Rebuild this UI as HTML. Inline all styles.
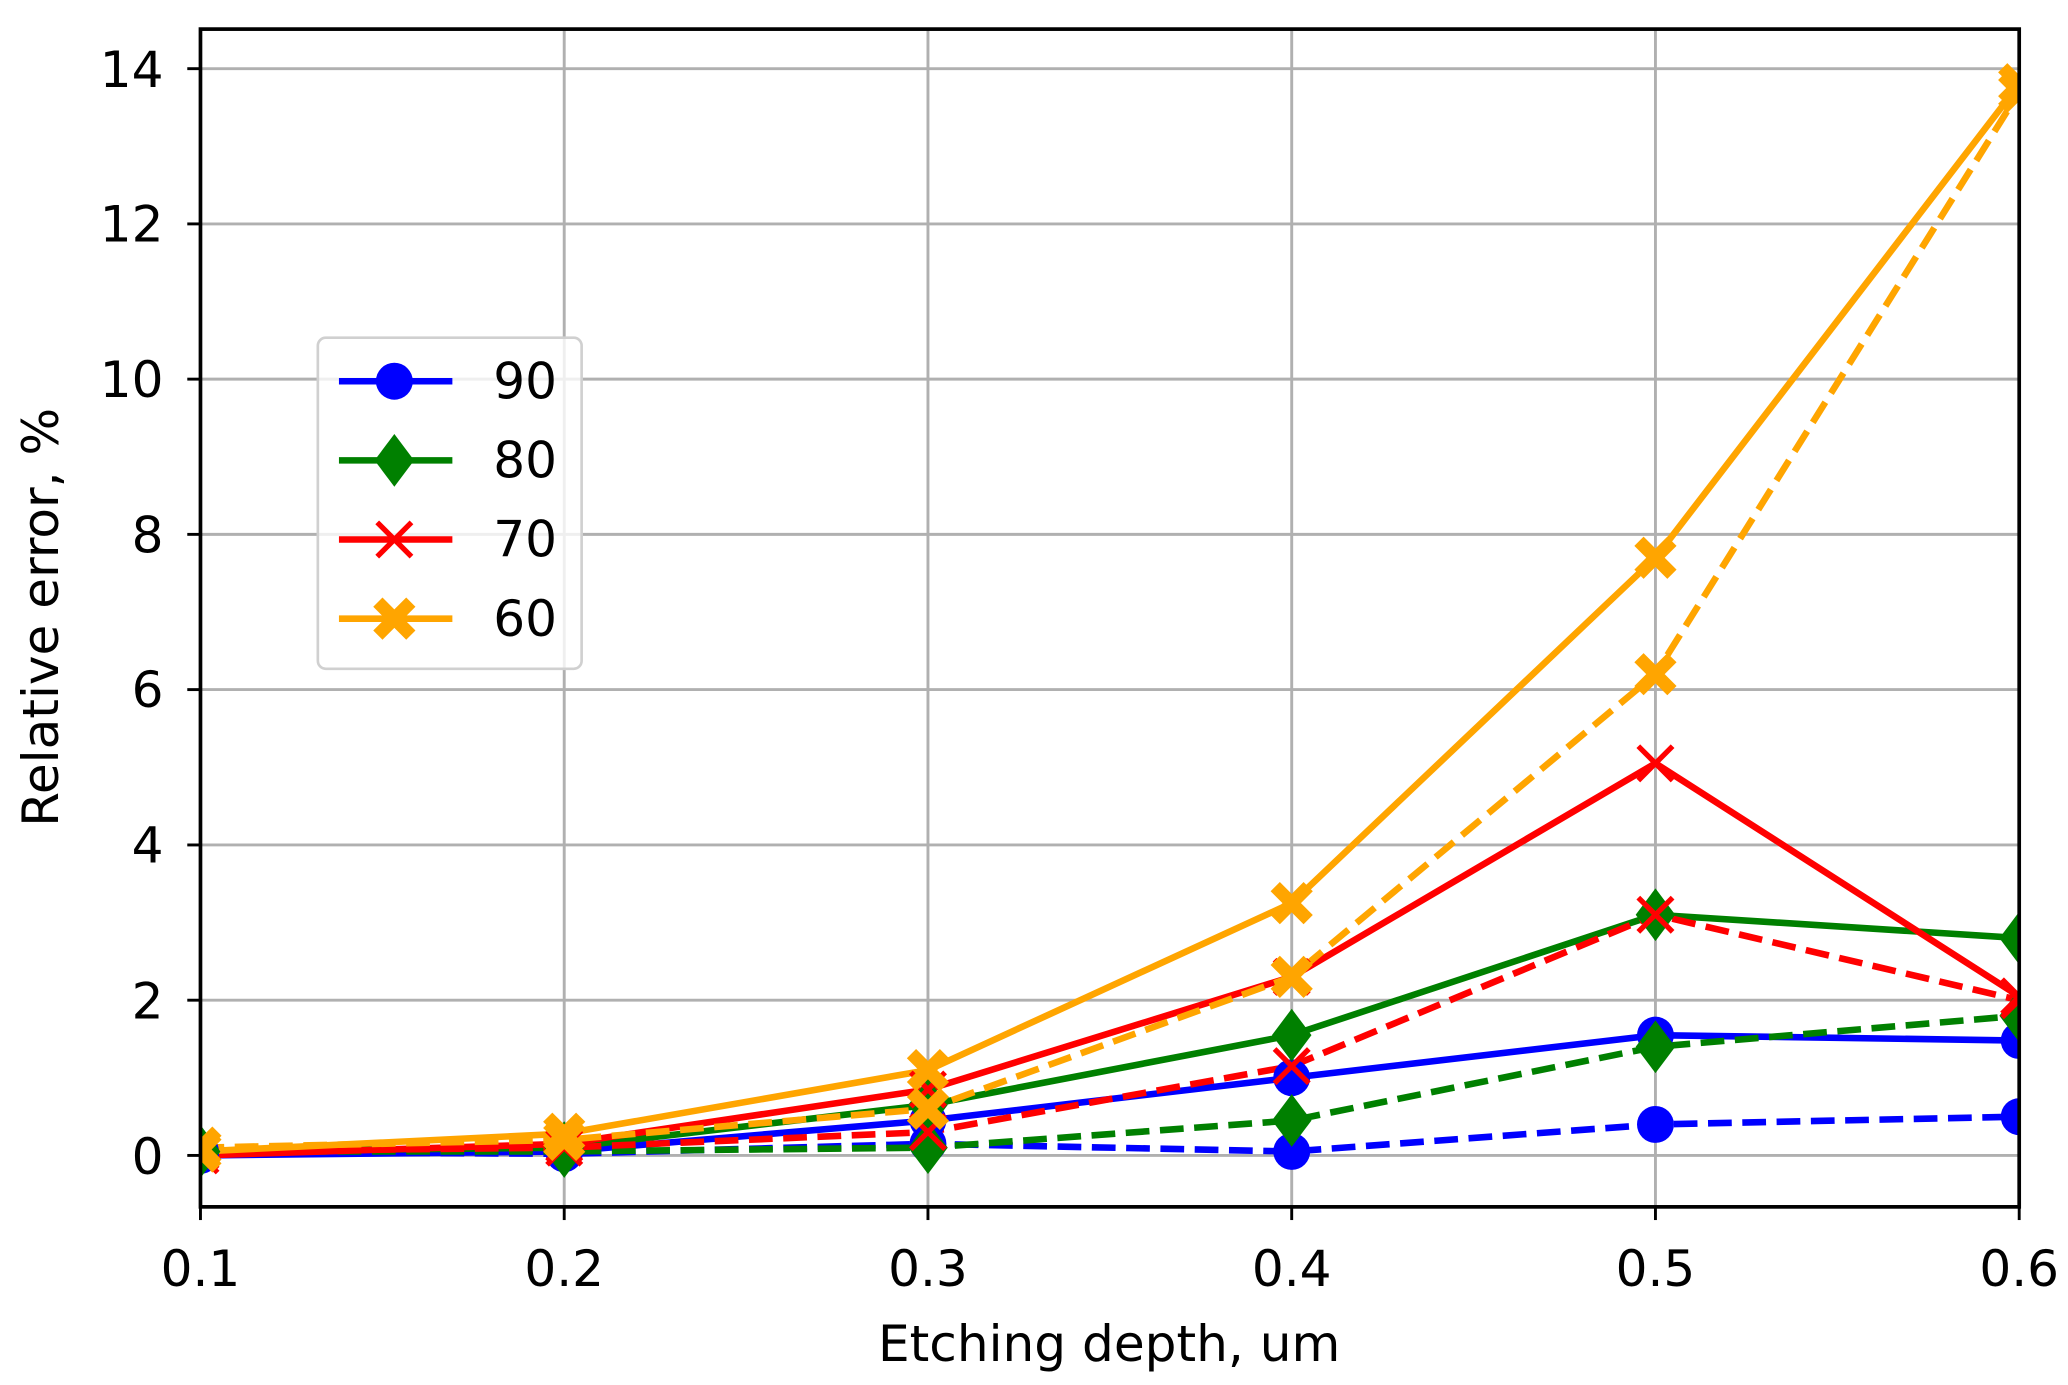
<!DOCTYPE html>
<html><head><meta charset="utf-8"><style>
html,body{margin:0;padding:0;background:#fff;}
svg{display:block;}
text{font-family:"DejaVu Sans","Liberation Sans",sans-serif;fill:#000;}
</style></head><body>
<svg width="2068" height="1385" viewBox="0 0 1568 1050" xmlns="http://www.w3.org/2000/svg">
<defs>
<clipPath id="c"><rect x="152" y="22" width="1379" height="893"/></clipPath>
<circle id="mo" r="14"/>
<path id="md" d="M0,-20 L15,0 L0,20 L-15,0 Z"/>
<path id="mx" d="M-13,-13 L13,13 M-13,13 L13,-13" fill="none" stroke-width="4"/>
<path id="mX" d="M-16,-9 L-9,-16 L0,-7 L9,-16 L16,-9 L7,0 L16,9 L9,16 L0,7 L-9,16 L-16,9 L-7,0 Z"/>
</defs>
<rect width="1568" height="1050" fill="#fff"/>
<g stroke="#b0b0b0" stroke-width="2.2">
<line x1="427.8" y1="22" x2="427.8" y2="915"/><line x1="703.6" y1="22" x2="703.6" y2="915"/>
<line x1="979.4" y1="22" x2="979.4" y2="915"/><line x1="1255.2" y1="22" x2="1255.2" y2="915"/>
<line x1="152" y1="876" x2="1531" y2="876"/><line x1="152" y1="758.3" x2="1531" y2="758.3"/>
<line x1="152" y1="640.6" x2="1531" y2="640.6"/><line x1="152" y1="522.8" x2="1531" y2="522.8"/>
<line x1="152" y1="405.1" x2="1531" y2="405.1"/><line x1="152" y1="287.4" x2="1531" y2="287.4"/>
<line x1="152" y1="169.7" x2="1531" y2="169.7"/><line x1="152" y1="52" x2="1531" y2="52"/>
</g>
<g clip-path="url(#c)" fill="none" stroke-width="5" stroke-linejoin="round">
<polyline stroke="#0000ff" points="152,876 427.8,873 703.6,849.5 979.4,817.1 1255.2,784.8 1531,788.9"/>
<polyline stroke="#0000ff" stroke-dasharray="18,8" points="152,873 427.8,874.8 703.6,867.2 979.4,873 1255.2,852.5 1531,846.6"/>
<polyline stroke="#008000" points="152,873 427.8,870.1 703.6,837.7 979.4,784.8 1255.2,693.5 1531,711.2"/>
<polyline stroke="#008000" stroke-dasharray="18,8" points="152,873 427.8,873 703.6,870.1 979.4,849.5 1255.2,793.6 1531,770.1"/>
<polyline stroke="#ff0000" points="152,876 427.8,867.2 703.6,826 979.4,740.6 1255.2,578.7 1531,755.4"/>
<polyline stroke="#ff0000" stroke-dasharray="18,8" points="152,873 427.8,870.1 703.6,858.3 979.4,808.3 1255.2,693.5 1531,758.3"/>
<polyline stroke="#ffa500" points="152,873 427.8,859.5 703.6,811.3 979.4,684.7 1255.2,422.8 1531,63.8"/>
<polyline stroke="#ffa500" stroke-dasharray="18,8" points="152,870.1 427.8,864.2 703.6,840.7 979.4,740.6 1255.2,511.1 1531,69.6"/>
<g fill="#0000ff" stroke="none">
<use href="#mo" x="152" y="876"/><use href="#mo" x="427.8" y="873"/><use href="#mo" x="703.6" y="849.5"/><use href="#mo" x="979.4" y="817.1"/><use href="#mo" x="1255.2" y="784.8"/><use href="#mo" x="1531" y="788.9"/>
<use href="#mo" x="152" y="873"/><use href="#mo" x="427.8" y="874.8"/><use href="#mo" x="703.6" y="867.2"/><use href="#mo" x="979.4" y="873"/><use href="#mo" x="1255.2" y="852.5"/><use href="#mo" x="1531" y="846.6"/>
</g>
<g fill="#008000" stroke="none">
<use href="#md" x="152" y="873"/><use href="#md" x="427.8" y="870.1"/><use href="#md" x="703.6" y="837.7"/><use href="#md" x="979.4" y="784.8"/><use href="#md" x="1255.2" y="693.5"/><use href="#md" x="1531" y="711.2"/>
<use href="#md" x="152" y="873"/><use href="#md" x="427.8" y="873"/><use href="#md" x="703.6" y="870.1"/><use href="#md" x="979.4" y="849.5"/><use href="#md" x="1255.2" y="793.6"/><use href="#md" x="1531" y="770.1"/>
</g>
<g stroke="#ff0000">
<use href="#mx" x="152" y="876"/><use href="#mx" x="427.8" y="867.2"/><use href="#mx" x="703.6" y="826"/><use href="#mx" x="979.4" y="740.6"/><use href="#mx" x="1255.2" y="578.7"/><use href="#mx" x="1531" y="755.4"/>
<use href="#mx" x="152" y="873"/><use href="#mx" x="427.8" y="870.1"/><use href="#mx" x="703.6" y="858.3"/><use href="#mx" x="979.4" y="808.3"/><use href="#mx" x="1255.2" y="693.5"/><use href="#mx" x="1531" y="758.3"/>
</g>
<g fill="#ffa500" stroke="none">
<use href="#mX" x="152" y="873"/><use href="#mX" x="427.8" y="859.5"/><use href="#mX" x="703.6" y="811.3"/><use href="#mX" x="979.4" y="684.7"/><use href="#mX" x="1255.2" y="422.8"/><use href="#mX" x="1531" y="63.8"/>
<use href="#mX" x="152" y="870.1"/><use href="#mX" x="427.8" y="864.2"/><use href="#mX" x="703.6" y="840.7"/><use href="#mX" x="979.4" y="740.6"/><use href="#mX" x="1255.2" y="511.1"/><use href="#mX" x="1531" y="69.6"/>
</g>
</g>
<rect x="152" y="22" width="1379" height="893" fill="none" stroke="#000" stroke-width="2.8"/>
<g stroke="#000" stroke-width="2.2">
<line x1="152" y1="915" x2="152" y2="925"/><line x1="427.8" y1="915" x2="427.8" y2="925"/><line x1="703.6" y1="915" x2="703.6" y2="925"/><line x1="979.4" y1="915" x2="979.4" y2="925"/><line x1="1255.2" y1="915" x2="1255.2" y2="925"/><line x1="1531" y1="915" x2="1531" y2="925"/>
<line x1="142" y1="876" x2="152" y2="876"/><line x1="142" y1="758.3" x2="152" y2="758.3"/><line x1="142" y1="640.6" x2="152" y2="640.6"/><line x1="142" y1="522.8" x2="152" y2="522.8"/><line x1="142" y1="405.1" x2="152" y2="405.1"/><line x1="142" y1="287.4" x2="152" y2="287.4"/><line x1="142" y1="169.7" x2="152" y2="169.7"/><line x1="142" y1="52" x2="152" y2="52"/>
</g>
<g font-size="38" text-anchor="middle">
<text x="152" y="975">0.1</text><text x="427.8" y="975">0.2</text><text x="703.6" y="975">0.3</text><text x="979.4" y="975">0.4</text><text x="1255.2" y="975">0.5</text><text x="1531" y="975">0.6</text>
</g>
<g font-size="38" text-anchor="end">
<text x="124" y="890">0</text><text x="124" y="772">2</text><text x="124" y="654">4</text><text x="124" y="536">6</text><text x="124" y="419">8</text><text x="124" y="301">10</text><text x="124" y="183">12</text><text x="124" y="66">14</text>
</g>
<text x="841" y="1032" font-size="38" text-anchor="middle">Etching depth, um</text>
<text transform="translate(44,468) rotate(-90)" font-size="38" text-anchor="middle">Relative error, %</text>
<rect x="241" y="256" width="200" height="251" rx="6" fill="#fff" fill-opacity="0.8" stroke="#d0d0d0" stroke-width="2"/>
<g stroke-width="5">
<line x1="257" y1="289" x2="343" y2="289" stroke="#0000ff"/>
<line x1="257" y1="349" x2="343" y2="349" stroke="#008000"/>
<line x1="257" y1="409" x2="343" y2="409" stroke="#ff0000"/>
<line x1="257" y1="469" x2="343" y2="469" stroke="#ffa500"/>
</g>
<use href="#mo" x="299" y="289" fill="#0000ff"/>
<use href="#md" x="299" y="349" fill="#008000"/>
<use href="#mx" x="299" y="409" stroke="#ff0000"/>
<use href="#mX" x="299" y="469" fill="#ffa500"/>
<g font-size="38">
<text x="374" y="302">90</text><text x="374" y="362">80</text><text x="374" y="422">70</text><text x="374" y="482">60</text>
</g>
</svg>
</body></html>
